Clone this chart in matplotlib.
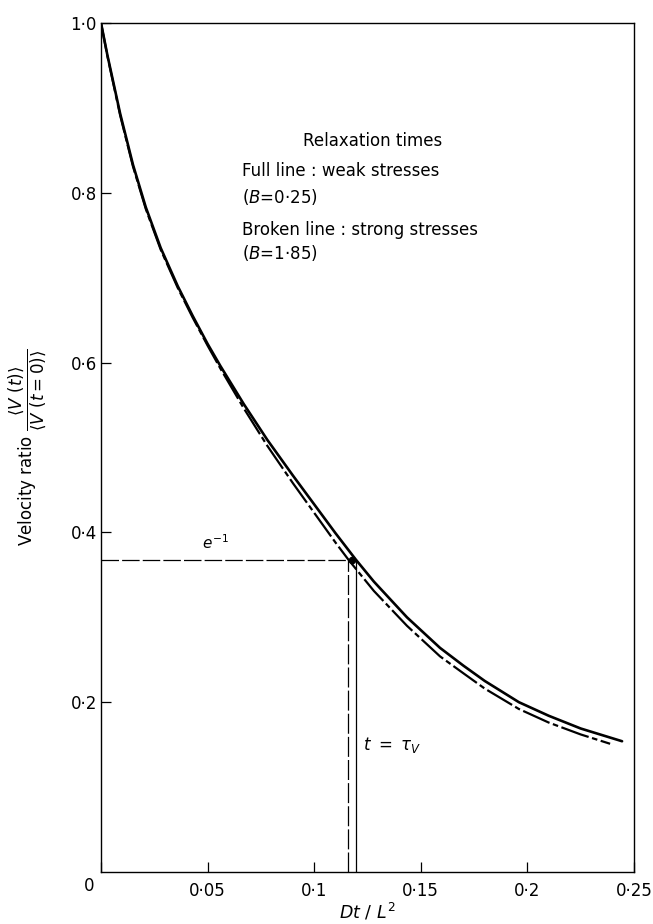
import matplotlib.pyplot as plt
import numpy as np

plt.rcParams['font.family'] = ['DejaVu Sans']
plt.rcParams['mathtext.fontset'] = 'dejavusans'

# full line : weak stresses (B = 0.25)
x_full = [0, 0.003, 0.009, 0.015, 0.021, 0.028, 0.036, 0.043, 0.050, 0.056, 0.067, 0.078,
          0.09, 0.10, 0.11, 0.1195, 0.128, 0.1435, 0.159, 0.17, 0.18, 0.196, 0.21, 0.225, 0.2444]
y_full = [1.0, 0.962, 0.893, 0.833, 0.783, 0.735, 0.690, 0.655, 0.622, 0.596, 0.551, 0.509,
          0.467, 0.433, 0.399, 0.368, 0.342, 0.300, 0.264, 0.243, 0.225, 0.200, 0.184, 0.169, 0.154]

# broken line : strong stresses (B = 1.85)
x_broken = [0, 0.003, 0.009, 0.015, 0.021, 0.028, 0.036, 0.043, 0.050, 0.056, 0.067, 0.078,
            0.09, 0.10, 0.11, 0.116, 0.128, 0.1435, 0.159, 0.17, 0.18, 0.196, 0.21, 0.225, 0.2388]
y_broken = [1.0, 0.961, 0.891, 0.831, 0.781, 0.733, 0.688, 0.653, 0.620, 0.593, 0.546, 0.502,
            0.458, 0.423, 0.388, 0.368, 0.331, 0.290, 0.254, 0.234, 0.216, 0.192, 0.176, 0.162, 0.151]

e_inv = np.exp(-1)
tau_full = 0.1195
tau_broken = 0.116

x_ticks = [0, 0.05, 0.1, 0.15, 0.2, 0.25]
x_ticklabels = ['', '0·05', '0·1', '0·15', '0·2', '0·25']
y_ticks = [0.2, 0.4, 0.6, 0.8, 1.0]
y_ticklabels = ['0·2', '0·4', '0·6', '0·8', '1·0']

fig = plt.figure(figsize=(6.53, 9.24), dpi=100)
ax = fig.add_axes([0.1547, 0.0563, 0.8162, 0.9188])

ax.plot(x_full, y_full, color='k', lw=1.9, solid_capstyle='round')
ax.plot(x_broken, y_broken, color='k', lw=1.6, dashes=(13, 1.6, 2.5, 1.6))

# e^-1 construction
ax.plot([0, tau_broken], [e_inv, e_inv], color='k', lw=0.9, dashes=(14, 2.5))
ax.plot([tau_broken, tau_broken], [0, e_inv], color='k', lw=0.9, dashes=(16, 2.5))
ax.plot([tau_full, tau_full], [0, e_inv], color='k', lw=0.9)
ax.plot([(tau_full + tau_broken) / 2], [e_inv], 'o', color='k', ms=4.5)

ax.set_xlim(0, 0.25)
ax.set_ylim(0, 1.0)
ax.set_xticks(x_ticks)
ax.set_xticklabels(x_ticklabels)
ax.set_yticks(y_ticks)
ax.set_yticklabels(y_ticklabels)
ax.tick_params(direction='in', length=7, width=0.9, labelsize=12)
ax.tick_params(axis='x', pad=7)
ax.tick_params(axis='y', pad=3)
for s in ax.spines.values():
    s.set_linewidth(1.0)

ax.text(-0.0055, -0.017, '0', fontsize=12, ha='center', va='center',
        transform=ax.get_xaxis_transform())

ax.set_xlabel(r'$Dt\ /\ L^2$', fontsize=12.5)
ax.xaxis.set_label_coords(0.5, -0.035)
ax.set_ylabel(r'Velocity ratio $\dfrac{\langle V\ (t)\rangle}{\langle V\ (t=0)\rangle}$',
              fontsize=12)
ax.yaxis.set_label_coords(-0.1, 0.5)

ax.text(0.1276, 0.861, 'Relaxation times', fontsize=12, ha='center', va='center')
ax.text(0.0661, 0.826, 'Full line : weak stresses', fontsize=12, ha='left', va='center')
ax.text(0.0661, 0.795, '($B$=0·25)', fontsize=12, ha='left', va='center')
ax.text(0.0661, 0.756, 'Broken line : strong stresses', fontsize=12, ha='left', va='center')
ax.text(0.0661, 0.729, '($B$=1·85)', fontsize=12, ha='left', va='center')

ax.text(0.0535, 0.3875, r'$e^{-1}$', fontsize=11, ha='center', va='center')
ax.text(0.1229, 0.150, r'$t\ =\ \tau_V$', fontsize=12, ha='left', va='center')

fig.savefig('out.png', dpi=100)
